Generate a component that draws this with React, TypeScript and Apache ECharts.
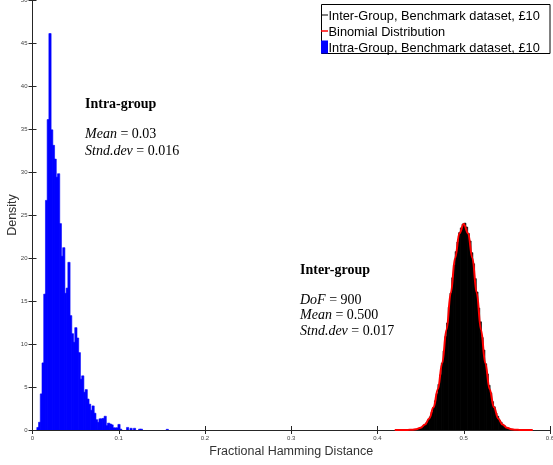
import React, { useEffect, useRef } from "react";
import * as echarts from "echarts";

// ---------- data ----------
const xTicks = { min: 0, max: 0.6, interval: 0.1 };
const yTicks = { min: 0, max: 50, interval: 5 };

// Intra-group histogram (blue): bin start, bin width, densities
const intraStart = 0.005;
const intraBinWidth = 0.002;
const intraDensity = [
  0.3, 0.9, 4.2, 7.8, 15.8, 26.7, 36.1, 46.1, 34.9, 33.1, 31.5, 29.4, 29.8, 24.0, 20.2, 21.2, 15.9, 16.5, 19.5,
  13.3, 11.2, 10.2, 11.9, 10.7, 9.0, 5.9, 6.3, 4.4, 4.7, 3.6, 3.0, 2.3, 2.8, 1.95, 1.2, 0.9, 1.3, 1.3, 1.35,
  1.6, 0.5, 0.8, 0.7, 0.6, 0.25, 0.25, 0.25, 0.65, 0.1, 0, 0, 0, 0.3, 0, 0.2, 0, 0.2, 0, 0, 0.1, 0.1,
  0, 0, 0, 0, 0, 0, 0, 0, 0, 0, 0, 0, 0, 0, 0.08,
];

// Inter-group histogram (black)
const interStart = 0.44;
const interBinWidth = 0.002;
const interDensity = [
  0.04, 0.07, 0.1, 0.16, 0.21, 0.33, 0.44, 0.64, 0.85, 1.18, 1.53, 2.06, 2.62, 3.4, 4.22, 5.3, 6.41, 7.8, 9.2,
  10.86, 12.45, 14.28, 15.92, 17.7, 19.2, 20.74, 21.86, 22.95, 23.5, 23.95,
  24.05, 23.6, 22.85, 21.98, 20.62, 19.33, 17.6, 16.05, 14.18, 12.58, 10.75, 9.3, 7.7, 6.52, 5.2, 4.32, 3.3,
  2.7, 1.98, 1.6, 1.12, 0.9, 0.6, 0.48, 0.3, 0.24, 0.14, 0.11, 0.06, 0.05,
];

// Binomial distribution curve (red)
const binomialX = [
  0.42, 0.425, 0.43, 0.435, 0.44, 0.445, 0.45, 0.455, 0.46, 0.465, 0.47, 0.475, 0.48, 0.485, 0.49, 0.495, 0.5,
  0.505, 0.51, 0.515, 0.52, 0.525, 0.53, 0.535, 0.54, 0.545, 0.55, 0.555, 0.56, 0.565, 0.57, 0.575, 0.58,
];
const binomialY = [
  0.0, 0.001, 0.004, 0.012, 0.037, 0.1, 0.27, 0.63, 1.34, 2.64, 4.74, 7.77, 11.65, 15.97, 20.0, 22.89, 23.94,
  22.89, 20.0, 15.97, 11.65, 7.77, 4.74, 2.64, 1.34, 0.63, 0.27, 0.1, 0.037, 0.012, 0.004, 0.001, 0.0,
];

const legendLabels = [
  "Inter-Group, Benchmark dataset, £10",
  "Binomial Distribution",
  "Intra-Group, Benchmark dataset, £10",
];

const intraTitle = "Intra-group";
const intraStats = ["{i|Mean} = 0.03", "{i|Stnd.dev} = 0.016"];
const interTitle = "Inter-group";
const interStats = ["{i|DoF} = 900", "{i|Mean} = 0.500", "{i|Stnd.dev} = 0.017"];

function bins(start: number, width: number, values: number[]) {
  return values.map((v, k) => [start + k * width, start + (k + 1) * width, v]);
}

function histRender(color: string) {
  return (params: any, api: any) => {
    const x0 = api.value(0);
    const x1 = api.value(1);
    const y = api.value(2);
    if (!(y > 0)) return null;
    const p0 = api.coord([x0, 0]);
    const p1 = api.coord([x1, y]);
    return {
      type: "rect",
      shape: { x: p0[0], y: p1[1], width: p1[0] - p0[0] + 0.5, height: p0[1] - p1[1] },
      style: { fill: color, stroke: color, lineWidth: 0.6 },
    };
  };
}

const serif = '"Liberation Serif", "Times New Roman", serif';
const sans = '"Liberation Sans", Arial, Helvetica, sans-serif';
const axisColor = "#262626";
const labelColor = "#444";

export default function App() {
  const ref = useRef<HTMLDivElement>(null);
  useEffect(() => {
    document.body.style.margin = "0";
    const chart = echarts.init(ref.current!, null, { renderer: "svg" });
    const rich = { i: { fontStyle: "italic", fontFamily: serif, fontSize: 14, fill: "#000" } };
    const statText = (x: number, y: number, t: string) => ({
      type: "text",
      x,
      y,
      style: { text: t, fontFamily: serif, fontSize: 14, fill: "#000", verticalAlign: "middle", rich },
    });
    const legendY = [15, 31, 47];
    const option: any = {
      animation: false,
      grid: { left: 32.5, right: 3, top: 0, bottom: 35, containLabel: false, outerBoundsMode: "none" },
      xAxis: [
        {
          type: "value",
          min: xTicks.min,
          max: xTicks.max,
          interval: xTicks.interval,
          name: "Fractional Hamming Distance",
          nameLocation: "middle",
          nameGap: 14,
          nameMoveOverlap: false,
          nameTextStyle: { fontFamily: sans, fontSize: 12.5, color: "#333" },
          axisLine: { show: true, lineStyle: { color: axisColor, width: 1 } },
          axisTick: { show: true, inside: true, length: 4, lineStyle: { color: axisColor } },
          axisLabel: { fontFamily: sans, fontSize: 6, color: labelColor, margin: 5, hideOverlap: false },
          splitLine: { show: false },
        },
        {
          type: "value",
          position: "top",
          min: xTicks.min,
          max: xTicks.max,
          interval: xTicks.interval,
          axisLine: { show: true, lineStyle: { color: axisColor, width: 1 } },
          axisTick: { show: true, inside: true, length: 4, lineStyle: { color: axisColor } },
          axisLabel: { show: false },
          splitLine: { show: false },
        },
      ],
      yAxis: [
        {
          type: "value",
          min: yTicks.min,
          max: yTicks.max,
          interval: yTicks.interval,
          name: "Density",
          nameLocation: "middle",
          nameGap: 14,
          nameMoveOverlap: false,
          nameTextStyle: { fontFamily: sans, fontSize: 12.5, color: "#333" },
          axisLine: { show: true, lineStyle: { color: axisColor, width: 1 } },
          axisTick: { show: true, inside: true, length: 4, lineStyle: { color: axisColor } },
          axisLabel: { fontFamily: sans, fontSize: 6, color: labelColor, margin: 5 },
          splitLine: { show: false },
        },
        {
          type: "value",
          position: "right",
          min: yTicks.min,
          max: yTicks.max,
          interval: yTicks.interval,
          axisLine: { show: true, lineStyle: { color: axisColor, width: 1 } },
          axisTick: { show: true, inside: true, length: 4, lineStyle: { color: axisColor } },
          axisLabel: { show: false },
          splitLine: { show: false },
        },
      ],
      series: [
        {
          type: "custom",
          name: legendLabels[2],
          renderItem: histRender("#0000ff"),
          encode: { x: [0, 1], y: 2 },
          data: bins(intraStart, intraBinWidth, intraDensity),
          clip: true,
        },
        {
          type: "custom",
          name: legendLabels[0],
          renderItem: histRender("#000000"),
          encode: { x: [0, 1], y: 2 },
          data: bins(interStart, interBinWidth, interDensity),
          clip: true,
        },
        {
          type: "line",
          name: legendLabels[1],
          data: binomialX.map((x, i) => [x, binomialY[i]]),
          showSymbol: false,
          smooth: 0.4,
          smoothMonotone: "x",
          lineStyle: { color: "#ff0000", width: 2 },
          z: 5,
        },
      ],
      graphic: [
        {
          type: "rect",
          shape: { x: 321.5, y: 4.5, width: 228.5, height: 49 },
          style: { fill: "#fff", stroke: "#000", lineWidth: 1 },
          z: 10,
        },
        {
          type: "line",
          shape: { x1: 321, y1: legendY[0], x2: 328, y2: legendY[0] },
          style: { stroke: "#000", lineWidth: 1 },
          z: 11,
        },
        {
          type: "line",
          shape: { x1: 321, y1: legendY[1], x2: 328, y2: legendY[1] },
          style: { stroke: "#ff0000", lineWidth: 1.5 },
          z: 11,
        },
        {
          type: "rect",
          shape: { x: 321, y: legendY[2] - 6.5, width: 7, height: 13 },
          style: { fill: "#0000ff" },
          z: 11,
        },
        ...legendLabels.map((t, i) => ({
          type: "text",
          x: 328.5,
          y: legendY[i],
          style: { text: t, fontFamily: sans, fontSize: 12.8, fill: "#000", verticalAlign: "middle" },
          z: 11,
        })),
        {
          type: "text",
          x: 85,
          y: 103,
          style: { text: intraTitle, fontFamily: serif, fontSize: 14, fontWeight: "bold", fill: "#000", verticalAlign: "middle" },
        },
        statText(85, 133, intraStats[0]),
        statText(85, 150, intraStats[1]),
        {
          type: "text",
          x: 300,
          y: 269,
          style: { text: interTitle, fontFamily: serif, fontSize: 14, fontWeight: "bold", fill: "#000", verticalAlign: "middle" },
        },
        statText(300, 299, interStats[0]),
        statText(300, 314, interStats[1]),
        statText(300, 330, interStats[2]),
      ],
    };
    chart.setOption(option);
    return () => chart.dispose();
  }, []);
  return <div ref={ref} style={{ position: "fixed", left: 0, top: 0, width: 553, height: 465 }} />;
}
